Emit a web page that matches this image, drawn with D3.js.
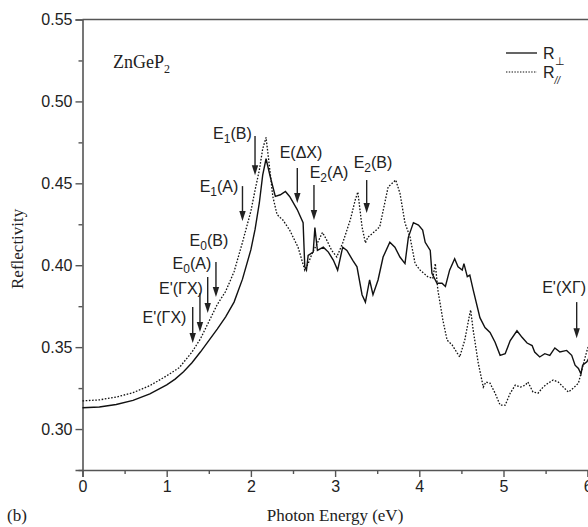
<!DOCTYPE html>
<html>
<head>
<meta charset="utf-8">
<script src="https://cdnjs.cloudflare.com/ajax/libs/d3/7.8.5/d3.min.js"></script>
<style>
body { margin: 0; background: #fff; }
svg { display: block; }
</style>
</head>
<body>
<div id="chart"></div>
<script>
var width = 588, height = 527;
var margin = { top: 19.5, left: 82.5, bottom: 57 };

// R perpendicular (solid)
var ePerp = [0, 0.2, 0.4, 0.6, 0.8, 1.0, 1.1, 1.2, 1.3, 1.4, 1.5, 1.6, 1.7, 1.8, 1.9, 2.0, 2.05, 2.1, 2.14, 2.18,
  2.23, 2.29, 2.35, 2.41, 2.46, 2.55, 2.62, 2.64, 2.66, 2.68, 2.74, 2.76, 2.79, 2.86, 2.92, 2.98, 3.03, 3.09, 3.14, 3.21, 3.26,
  3.32, 3.36, 3.41, 3.45, 3.51, 3.57, 3.65, 3.71, 3.77, 3.83, 3.87, 3.93, 3.99, 4.04, 4.07, 4.13, 4.15, 4.21, 4.27, 4.31,
  4.36, 4.42, 4.46, 4.51, 4.53, 4.57, 4.60, 4.64, 4.72, 4.78, 4.84, 4.90, 4.96, 5.02, 5.08, 5.16, 5.22, 5.28, 5.34, 5.37,
  5.43, 5.49, 5.55, 5.61, 5.67, 5.75, 5.81, 5.85, 5.89, 5.92, 5.94, 5.99, 6.03];
var rPerp = [0.313, 0.3135, 0.315, 0.3175, 0.3215, 0.327, 0.3305, 0.335, 0.3405, 0.347, 0.354, 0.361, 0.3685, 0.3775, 0.3915, 0.4095, 0.422, 0.438, 0.455, 0.465,
  0.454, 0.442, 0.443, 0.445, 0.442, 0.434, 0.426, 0.399, 0.397, 0.406, 0.408, 0.423, 0.409, 0.411, 0.408, 0.403, 0.397, 0.411, 0.409, 0.403, 0.399,
  0.382, 0.3775, 0.391, 0.382, 0.391, 0.405, 0.414, 0.411, 0.405, 0.401, 0.417, 0.426, 0.4245, 0.4215, 0.414, 0.409, 0.395, 0.389, 0.389, 0.387,
  0.397, 0.404, 0.399, 0.397, 0.401, 0.393, 0.394, 0.385, 0.368, 0.362, 0.359, 0.353, 0.345, 0.346, 0.354, 0.360, 0.356, 0.3525, 0.351, 0.347,
  0.344, 0.346, 0.345, 0.3495, 0.347, 0.348, 0.345, 0.339, 0.337, 0.3336, 0.339, 0.341, 0.345];

// R parallel (dotted)
var ePar = [0, 0.2, 0.4, 0.6, 0.8, 1.0, 1.15, 1.3, 1.4, 1.5, 1.6, 1.7, 1.8, 1.9, 2.0, 2.05, 2.1, 2.14, 2.18,
  2.23, 2.26, 2.31, 2.35, 2.38, 2.46, 2.56, 2.64, 2.68, 2.73, 2.79, 2.85, 2.90, 2.96, 3.02, 3.09, 3.18, 3.24, 3.27, 3.32, 3.36,
  3.39, 3.45, 3.53, 3.63, 3.72, 3.77, 3.83, 3.89, 3.95, 4.01, 4.10, 4.16, 4.19, 4.22, 4.28, 4.33, 4.39, 4.45, 4.48, 4.54,
  4.59, 4.61, 4.64, 4.70, 4.76, 4.79, 4.84, 4.90, 4.96, 5.02, 5.08, 5.14, 5.20, 5.26, 5.29, 5.35, 5.41, 5.47, 5.53, 5.59,
  5.65, 5.71, 5.77, 5.83, 5.89, 5.93, 5.97, 6.0, 6.03];
var rPar = [0.3172, 0.3178, 0.3195, 0.3222, 0.3265, 0.3325, 0.3375, 0.347, 0.355, 0.3655, 0.376, 0.384, 0.396, 0.414, 0.433, 0.446, 0.458, 0.471, 0.478,
  0.456, 0.442, 0.431, 0.429, 0.4276, 0.4215, 0.411, 0.397, 0.401, 0.4075, 0.4136, 0.420, 0.4154, 0.409, 0.405, 0.4136, 0.4276, 0.440, 0.4447, 0.4234, 0.4136,
  0.4172, 0.4197, 0.4234, 0.4478, 0.452, 0.444, 0.4258, 0.4172, 0.401, 0.397, 0.393, 0.392, 0.401, 0.385, 0.3665, 0.3543, 0.3513, 0.3464, 0.344, 0.3543,
  0.3678, 0.3727, 0.3604, 0.3403, 0.3256, 0.3287, 0.328, 0.3219, 0.3146, 0.3146, 0.3219, 0.3268, 0.3256, 0.3268, 0.3287, 0.3226, 0.3219, 0.3256, 0.328, 0.3299,
  0.3287, 0.3256, 0.3226, 0.325, 0.328, 0.336, 0.3439, 0.3494, 0.353];

// transition labels and arrows (energy in eV, reflectivity)
var arrowLabels = ["E'(\u0393X)", "E'(\u0393X)", "E0(A)", "E0(B)", "E1(A)", "E1(B)", "E(\u0394X)", "E2(A)", "E2(B)", "E'(X\u0393)"];
var arrowE = [1.309, 1.395, 1.487, 1.585, 1.90, 2.049, 2.551, 2.749, 3.375, 5.869];
var arrowTop = [0.3745, 0.383, 0.3928, 0.402, 0.4483, 0.4789, 0.4593, 0.449, 0.452, 0.3775];
var arrowTip = [0.3525, 0.3592, 0.3708, 0.3806, 0.427, 0.455, 0.438, 0.4276, 0.4319, 0.3555];
var labelE = [0.974, 1.17, 1.30, 1.502, 1.621, 1.78, 2.595, 2.928, 3.45, 5.72];
var labelR = [0.3684, 0.386, 0.4013, 0.4154, 0.4483, 0.4807, 0.4691, 0.4569, 0.463, 0.3867];

var xTicks = [0, 1, 2, 3, 4, 5, 6];
var yTicks = [0.30, 0.35, 0.40, 0.45, 0.50, 0.55];

var x = d3.scaleLinear().domain([0, 6]).range([margin.left, margin.left + 6 * 84.2]);
var y = d3.scaleLinear().domain([0.275, 0.55]).range([height - margin.bottom, margin.top]);

var svg = d3.select("#chart").append("svg").attr("width", width).attr("height", height);

var sans = "'Liberation Sans', Arial, Helvetica, sans-serif";
var serif = "'Liberation Serif', 'Times New Roman', serif";
var axisColor = "#555";

// axes
var xAxis = svg.append("g")
  .attr("transform", "translate(0," + y(0.275) + ")")
  .call(d3.axisBottom(x).tickValues(xTicks).tickSize(7).tickPadding(4).tickFormat(d3.format("d")));
var xMinor = svg.append("g")
  .attr("transform", "translate(0," + y(0.275) + ")")
  .call(d3.axisBottom(x).tickValues([0.5, 1.5, 2.5, 3.5, 4.5, 5.5]).tickSize(4).tickFormat(""));
var yAxis = svg.append("g")
  .attr("transform", "translate(" + x(0) + ",0)")
  .call(d3.axisLeft(y).tickValues(yTicks).tickSize(7).tickPadding(3).tickFormat(d3.format(".2f")));
var yMinor = svg.append("g")
  .attr("transform", "translate(" + x(0) + ",0)")
  .call(d3.axisLeft(y).tickValues([0.275, 0.325, 0.375, 0.425, 0.475, 0.525]).tickSize(4).tickFormat(""));

[xAxis, xMinor, yAxis, yMinor].forEach(function (g) {
  g.select(".domain").attr("stroke", axisColor).attr("stroke-width", 1.6);
  g.selectAll(".tick line").attr("stroke", axisColor).attr("stroke-width", 1.4);
  g.selectAll("text").attr("fill", "#222").style("font-family", sans).style("font-size", "16px");
});
xMinor.select(".domain").remove();
yMinor.select(".domain").remove();

// top frame
svg.append("line")
  .attr("x1", x(0)).attr("x2", width)
  .attr("y1", y(0.55)).attr("y2", y(0.55))
  .attr("stroke", axisColor).attr("stroke-width", 1.6);

var line = d3.line()
  .x(function (d) { return x(d[0]); })
  .y(function (d) { return y(d[1]); });

svg.append("path")
  .attr("d", line(d3.zip(ePar, rPar)))
  .attr("fill", "none").attr("stroke", "#111").attr("stroke-width", 1.3)
  .attr("stroke-dasharray", "1.6,1.6");

svg.append("path")
  .attr("d", line(d3.zip(ePerp, rPerp)))
  .attr("fill", "none").attr("stroke", "#111").attr("stroke-width", 1.4);

// arrows
var arrows = svg.append("g");
arrowE.forEach(function (e, i) {
  var ax = x(e), y0 = y(arrowTop[i]), y1 = y(arrowTip[i]);
  arrows.append("line")
    .attr("x1", ax).attr("x2", ax).attr("y1", y0).attr("y2", y1 - 8)
    .attr("stroke", "#222").attr("stroke-width", 1.4);
  arrows.append("path")
    .attr("d", "M" + (ax - 3.2) + "," + (y1 - 10) + "L" + (ax + 3.2) + "," + (y1 - 10) + "L" + ax + "," + y1 + "Z")
    .attr("fill", "#222");
});

// labels with subscripts
arrowLabels.forEach(function (lab, i) {
  var t = svg.append("text")
    .attr("x", x(labelE[i])).attr("y", y(labelR[i]))
    .attr("dy", "0.35em")
    .attr("text-anchor", "middle")
    .style("font-family", sans).style("font-size", "16px").attr("fill", "#222");
  var m = lab.match(/^E(\d)(.*)$/);
  if (m) {
    t.append("tspan").text("E");
    t.append("tspan").attr("dy", 4).style("font-size", "12px").text(m[1]);
    t.append("tspan").attr("dy", -4).text(m[2]);
  } else {
    t.text(lab);
  }
});

// sample label
var zn = svg.append("text")
  .attr("x", 113).attr("y", 68)
  .style("font-family", serif).style("font-size", "18px").attr("fill", "#222");
zn.append("tspan").text("ZnGeP");
zn.append("tspan").attr("dy", 5).style("font-size", "12px").text("2");

// legend
var leg = svg.append("g").attr("transform", "translate(506,53)");
leg.append("line").attr("x1", 0).attr("x2", 31).attr("y1", 0).attr("y2", 0)
  .attr("stroke", "#111").attr("stroke-width", 1.3);
leg.append("line").attr("x1", 0).attr("x2", 31).attr("y1", 19).attr("y2", 19)
  .attr("stroke", "#111").attr("stroke-width", 1.2).attr("stroke-dasharray", "1.4,1.4");
var l1 = leg.append("text").attr("x", 37).attr("y", 6)
  .style("font-family", sans).style("font-size", "16px").attr("fill", "#222");
l1.append("tspan").text("R");
l1.append("tspan").attr("dy", 6).style("font-size", "11px").text("\u22A5");
var l2 = leg.append("text").attr("x", 37).attr("y", 25)
  .style("font-family", sans).style("font-size", "16px").attr("fill", "#222");
l2.append("tspan").text("R");
l2.append("tspan").attr("dy", 6).style("font-size", "10px").style("font-style", "italic").text("//");

// axis titles
svg.append("text")
  .attr("transform", "translate(23," + y(0.41) + ") rotate(-90)")
  .attr("text-anchor", "middle")
  .style("font-family", serif).style("font-size", "17px").attr("fill", "#222")
  .text("Reflectivity");
svg.append("text")
  .attr("x", 335).attr("y", 521)
  .attr("text-anchor", "middle")
  .style("font-family", serif).style("font-size", "17px").attr("fill", "#222")
  .text("Photon Energy (eV)");
svg.append("text")
  .attr("x", 7).attr("y", 521)
  .style("font-family", serif).style("font-size", "17px").attr("fill", "#222")
  .text("(b)");
</script>
</body>
</html>
